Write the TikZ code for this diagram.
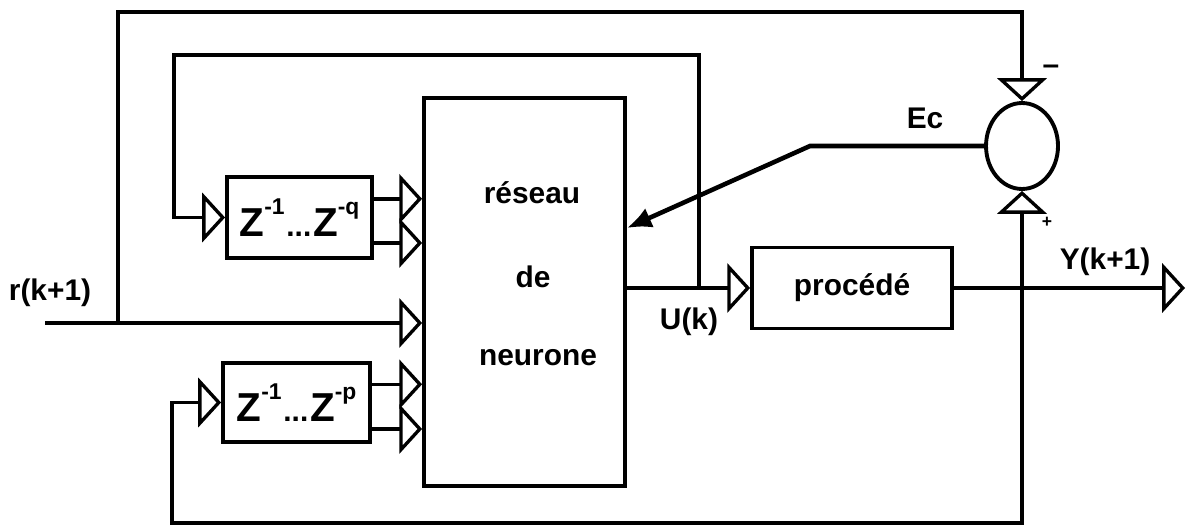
\documentclass[tikz,border=0pt]{standalone}
\usepackage{fontspec}
\setmainfont{Liberation Sans}
\usetikzlibrary{arrows.meta,shapes.geometric,calc}
\newcommand\zexp[1]{\raisebox{0.55em}{\fontsize{13}{13}\selectfont\bfseries #1}}
\begin{document}
\begin{tikzpicture}[x=0.02cm,y=-0.02cm,
  line width=2pt,
  box/.style={draw,line width=2.2pt,inner sep=0pt},
  oa/.style={-{Triangle[open,length=13pt,width=28pt,line width=1.9pt]}},
  sa/.style={line width=2.6pt,-{Latex[length=14pt,width=12pt]}},
  lbl/.style={font=\fontsize{17}{17}\selectfont\bfseries},
  ]
\useasboundingbox (0,0) rectangle (1195,530);
% blocks
\node[box,minimum width=4.02cm,minimum height=7.76cm] (net) at (524.5,292) {};
\node[lbl] (t1) at (532,193) {réseau};
\node[lbl] (t2) at (533,277) {de};
\node[lbl] (t3) at (538,358) {neurone};
\node[box,minimum width=2.9cm,minimum height=1.62cm,font=\fontsize{23}{23}\selectfont\bfseries] (zq) at (299.5,217.5)
  {Z\zexp{-1}\kern1pt{\fontsize{17}{17}\selectfont ...}\kern1pt Z\zexp{-q}};
\node[box,minimum width=2.94cm,minimum height=1.58cm,font=\fontsize{23}{23}\selectfont\bfseries] (zp) at (296.5,402.5)
  {Z\zexp{-1}\kern1pt{\fontsize{17}{17}\selectfont ...}\kern1pt Z\zexp{-p}};
\node[box,minimum width=4cm,minimum height=1.62cm,lbl] (proc) at (852,288) {procédé};
\node[draw,line width=2.2pt,ellipse,minimum width=1.44cm,minimum height=1.72cm,inner sep=0pt] (sum) at (1022,146) {};
% coordinates
\coordinate (rstart) at (45,323);
\coordinate (rj) at (118,323);
\coordinate (ttop) at (118,12);
\coordinate (uj) at (699,288);
\coordinate (itop) at (174,55);
\coordinate (yj) at (1022,288);
\coordinate (yend) at (1185,288);
\coordinate (bot) at (1022,523);
\coordinate (bl) at (172,523);
\coordinate (ecb) at (810,146);
\coordinate (ecy) at (0,228);
\coordinate (q1) at ($(zq.north east)!0.28!(zq.south east)$);
\coordinate (q2) at ($(zq.north east)!0.80!(zq.south east)$);
\coordinate (p1) at ($(zp.north east)!0.28!(zp.south east)$);
\coordinate (p2) at ($(zp.north east)!0.82!(zp.south east)$);
% connectors
\draw[oa] (rstart) -- (rstart -| net.west);
\draw[oa] (q1) -- (q1 -| net.west);
\draw[oa] (q2) -- (q2 -| net.west);
\draw[oa] (p1) -- (p1 -| net.west);
\draw[oa] (p2) -- (p2 -| net.west);
\draw[oa] (rj) -- (ttop) -| (sum.north);
\draw[oa] (uj -| net.east) -- (proc.west);
\draw[oa] (uj) |- (itop) |- (zq.west);
\draw[oa] (proc.east) -- (yend);
\draw[oa] (yj) -- (sum.south);
\draw[oa] (yj) -- (bot) -- (bl) |- (zp.west);
\draw[sa] (sum.west) -- (ecb) -- (net.east |- ecy);
% labels
\node[lbl] (lr) at (50,293) {r(k+1)};
\node[lbl] (lu) at (689,322) {U(k)};
\node[lbl] (ly) at (1105,262) {Y(k+1)};
\node[lbl] (lec) at (925,118) {Ec};
\node[lbl] (lminus) at (1051,70) {–};
\node[font=\fontsize{10}{10}\selectfont\bfseries] (lplus) at (1047,222) {+};
\end{tikzpicture}
\end{document}
